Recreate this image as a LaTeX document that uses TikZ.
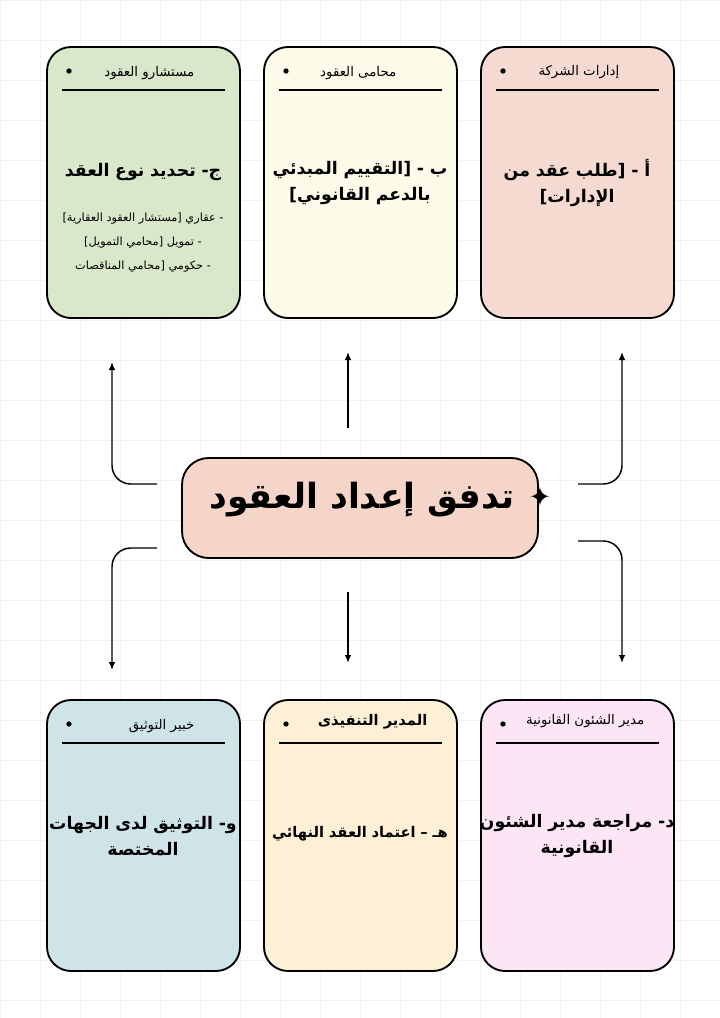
\documentclass[tikz,border=0pt]{standalone}
\usepackage{fontspec}
\usetikzlibrary{calc,arrows.meta}
\newfontfamily\arabicfont[Script=Arabic]{DejaVu Sans}
\newfontfamily\symfont{DejaVu Sans}
\TeXXeTstate=1
\newcommand{\ar}[1]{{\arabicfont\beginR #1\endR}}
\definecolor{cardgreen}{HTML}{D9E7CB}
\definecolor{cardyellow}{HTML}{FDFBE9}
\definecolor{cardrose}{HTML}{F5DAD1}
\definecolor{cardblue}{HTML}{CFE4E8}
\definecolor{cardorange}{HTML}{FDF0D6}
\definecolor{cardpink}{HTML}{FCE5F4}
\definecolor{titlefill}{HTML}{F5D5C8}
\begin{document}
\begin{tikzpicture}[x=0.75pt,y=-0.75pt,
    head/.style = {font=\fontsize{10}{12}\selectfont},
    body/.style = {font=\fontsize{13}{19}\selectfont\bfseries, align=center, text width=150pt},
    flow/.style = {line width=1.1pt, -{Latex[length=6pt,width=5pt]}, rounded corners=14pt}]

\useasboundingbox (0,0) rectangle (720,1018);
\fill[white] (0,0) rectangle (720,1018);
% Background grid
\draw[black!5, line width=0.5pt] (0,0) grid[step=30pt] (720,1018);

% Cards
\foreach \name/\x/\y/\col in {ca/481/47/cardrose, cb/264/47/cardyellow, cc/47/47/cardgreen,
    cd/481/700/cardpink, ce/264/700/cardorange, cf/47/700/cardblue}{
  \draw[line width=1.4pt, rounded corners=18pt, fill=\col] (\x,\y) rectangle ++(193,271);
  \coordinate (\name) at (\x,\y);
  \draw[line width=0.9pt] ($(\name)+(15,43)$) -- ++(163,0);
  \fill ($(\name)+(22,24)$) circle (2pt);
}

% Headers
\node[head, anchor=east] (ha) at ($(ca)+(143,25)$) {\ar{إدارات الشركة}};
\node[head, anchor=east] (hb) at ($(cb)+(137,26)$) {\ar{محامى العقود}};
\node[head, anchor=east] (hc) at ($(cc)+(152,26)$) {\ar{مستشارو العقود}};
\node[head, anchor=east] (hd) at ($(cd)+(168,21)$) {\ar{مدير الشئون القانونية}};
\node[head, anchor=east, font=\fontsize{11}{13}\selectfont\bfseries] (he) at ($(ce)+(168,22)$) {\ar{المدير التنفيذى}};
\node[head, anchor=east] (hf) at ($(cf)+(152,26)$) {\ar{خبير التوثيق}};

% Bodies
\node[body] (ba) at ($(ca)+(96,136)$) {\ar{أ - [طلب عقد من}\\\ar{الإدارات]}};
\node[body] (bb) at ($(cb)+(96,136)$) {\ar{ب - [التقييم المبدئي}\\\ar{بالدعم القانوني]}};
\node[body] (bc) at ($(cc)+(96,125)$) {\ar{ج- تحديد نوع العقد}};
\node[align=center, font=\fontsize{8.5}{18}\selectfont] (sc) at ($(cc)+(96,196)$)
    {\ar{- عقاري [مستشار العقود العقارية]}\\\ar{- تمويل [محامي التمويل]}\\\ar{-  حكومي [محامي المناقصات}};
\node[body] (bd) at ($(cd)+(96,136)$) {\ar{د- مراجعة مدير الشئون}\\\ar{القانونية}};
\node[body, font=\fontsize{11}{15}\selectfont\bfseries] (be) at ($(ce)+(96,134)$) {\ar{هـ – اعتماد العقد النهائي}};
\node[body] (bf) at ($(cf)+(96,136)$) {\ar{و- التوثيق لدى الجهات}\\\ar{المختصة}};

% Title
\draw[line width=1.4pt, rounded corners=20pt, fill=titlefill] (182,458) rectangle (538,558);
\node[font=\fontsize{26}{30}\selectfont\bfseries] (title) at (362,500) {\ar{تدفق إعداد العقود}};
\node[font=\fontsize{20}{20}\selectfont] (star) at (540,497) {\symfont ✦};

% Connectors
\coordinate (tl) at (157,484); \coordinate (tr) at (578,484);
\coordinate (bl) at (157,548); \coordinate (br) at (578,541);
\coordinate (tm) at (348,428); \coordinate (bm) at (348,592);
\draw[flow] (tl) -| (112,362);
\draw[flow] (tm) -- (348,352);
\draw[flow] (tr) -| (622,352);
\draw[flow] (bl) -| (112,670);
\draw[flow] (bm) -- (348,663);
\draw[flow] (br) -| (622,663);

\end{tikzpicture}
\end{document}
